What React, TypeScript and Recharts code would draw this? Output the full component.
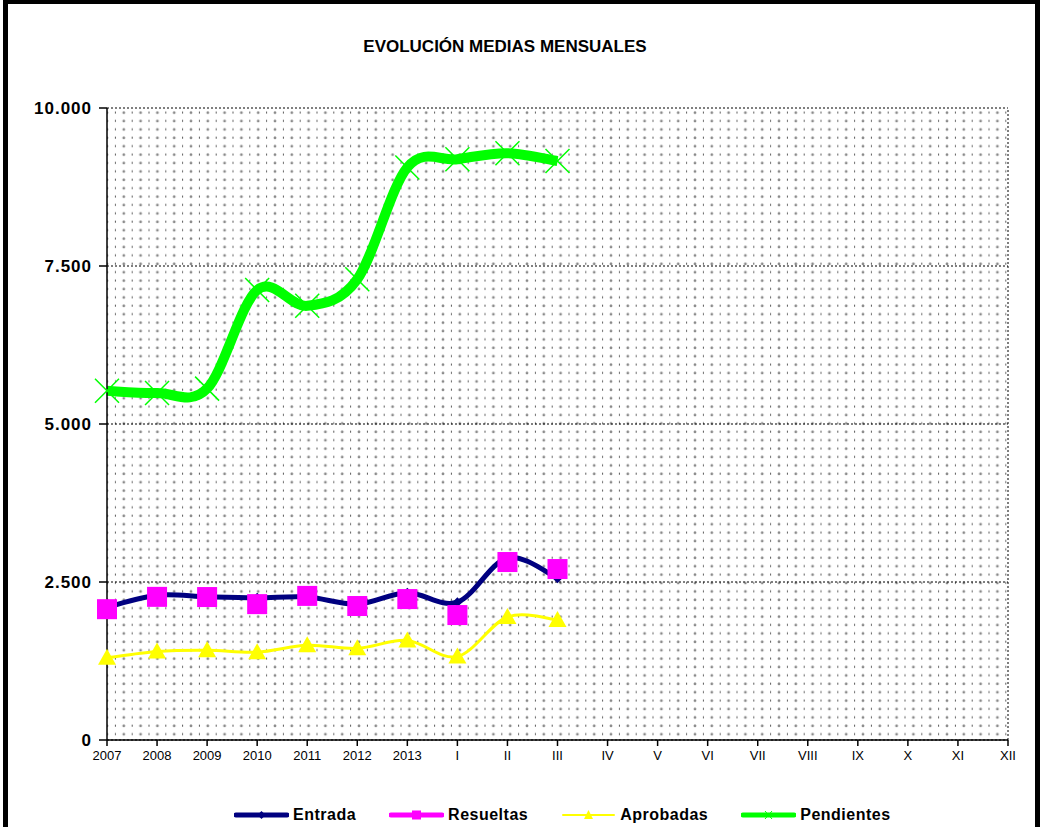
import { LineChart, Line, XAxis, YAxis, CartesianGrid, ReferenceLine } from "recharts";

const categories = ["2007", "2008", "2009", "2010", "2011", "2012", "2013", "I", "II", "III", "IV", "V", "VI", "VII", "VIII", "IX", "X", "XI", "XII"];
const entrada = [2100, 2290, 2265, 2250, 2262, 2150, 2330, 2180, 2880, 2560];
const resueltas = [2070, 2265, 2262, 2150, 2280, 2120, 2230, 1977, 2816, 2705];
const aprobadas = [1300, 1400, 1420, 1390, 1500, 1450, 1575, 1320, 1946, 1900];
const pendientes = [5525, 5490, 5560, 7120, 6870, 7290, 9060, 9190, 9285, 9160];
const yTicks = [0, 2500, 5000, 7500, 10000];

const data = categories.map((c, i) => ({
  cat: c,
  entrada: entrada[i] ?? null,
  resueltas: resueltas[i] ?? null,
  aprobadas: aprobadas[i] ?? null,
  pendientes: pendientes[i] ?? null,
}));

const FONT = "'Liberation Sans', Arial, sans-serif";

// Excel style smoothed line (Catmull-Rom through every point)
function excelCurve(context: any) {
  let pts: number[][] = [];
  return {
    areaStart() {},
    areaEnd() {},
    lineStart() {
      pts = [];
    },
    lineEnd() {
      const n = pts.length;
      if (!n) return;
      context.moveTo(pts[0][0], pts[0][1]);
      for (let i = 0; i < n - 1; i++) {
        const p0 = pts[Math.max(i - 1, 0)];
        const p1 = pts[i];
        const p2 = pts[i + 1];
        const p3 = pts[Math.min(i + 2, n - 1)];
        context.bezierCurveTo(
          p1[0] + (p2[0] - p0[0]) / 6,
          p1[1] + (p2[1] - p0[1]) / 6,
          p2[0] - (p3[0] - p1[0]) / 6,
          p2[1] - (p3[1] - p1[1]) / 6,
          p2[0],
          p2[1]
        );
      }
    },
    point(x: number, y: number) {
      pts.push([+x, +y]);
    },
  };
}

const fmt = (v: number) => String(v).replace(/\B(?=(\d{3})+(?!\d))/g, ".");

const empty = (p: any) => p.cx == null || p.cy == null || p.value == null;

const Diamond = (p: any) =>
  empty(p) ? <g key={p.key} /> : (
    <path key={p.key} d={`M${p.cx},${p.cy - 5}L${p.cx + 5},${p.cy}L${p.cx},${p.cy + 5}L${p.cx - 5},${p.cy}Z`} fill="#000080" />
  );

const Square = (p: any) =>
  empty(p) ? <g key={p.key} /> : <rect key={p.key} x={p.cx - 10} y={p.cy - 10} width={20} height={20} fill="#FF00FF" />;

const Triangle = (p: any) =>
  empty(p) ? <g key={p.key} /> : (
    <path key={p.key} d={`M${p.cx},${p.cy - 9}L${p.cx + 9},${p.cy + 7}L${p.cx - 9},${p.cy + 7}Z`} fill="#FFFF00" />
  );

const Cross = (p: any) =>
  empty(p) ? <g key={p.key} /> : (
    <path
      key={p.key}
      d={`M${p.cx - 12},${p.cy - 12}L${p.cx + 12},${p.cy + 12}M${p.cx - 12},${p.cy + 12}L${p.cx + 12},${p.cy - 12}`}
      stroke="#00FF00"
      strokeWidth={1.5}
    />
  );

const legendItems = [
  { name: "Entrada", color: "#000080", width: 5, mark: "diamond" },
  { name: "Resueltas", color: "#FF00FF", width: 5, mark: "square" },
  { name: "Aprobadas", color: "#FFFF00", width: 2, mark: "triangle" },
  { name: "Pendientes", color: "#00FF00", width: 5, mark: "cross" },
];

function LegendIcon({ color, width, mark }: { color: string; width: number; mark: string }) {
  return (
    <svg width={55} height={14} style={{ display: "block" }}>
      <line x1={2} y1={7} x2={53} y2={7} stroke={color} strokeWidth={width} strokeLinecap="round" />
      {mark === "diamond" && <path d="M27.5,3L31.5,7L27.5,11L23.5,7Z" fill={color} />}
      {mark === "square" && <rect x={23} y={2.5} width={9} height={9} fill={color} />}
      {mark === "triangle" && <path d="M27.5,2L32,11L23,11Z" fill={color} />}
      {mark === "cross" && <path d="M24,3L31,11M24,11L31,3" stroke={color} strokeWidth={1} />}
    </svg>
  );
}

export default function App() {
  return (
    <div style={{ position: "absolute", left: 0, top: 0, width: 1044, height: 827, overflow: "hidden", background: "#fff", fontFamily: FONT }}>
      <svg width={0} height={0} style={{ position: "absolute" }}>
        <defs>
          <pattern id="dots" patternUnits="userSpaceOnUse" x={107} y={110} width={16.8} height={8.4}>
            <circle cx={0} cy={2.5} r={1.4} fill="#8a8a8a" />
            <circle cx={16.8} cy={2.5} r={1.4} fill="#8a8a8a" />
            <rect x={7.9} y={1.5} width={1} height={2} fill="#555" />
          </pattern>
        </defs>
      </svg>

      <div style={{ position: "absolute", left: 3, top: -1, width: 1037, height: 900, border: "5px solid #000", boxSizing: "border-box" }} />

      <div style={{ position: "absolute", left: 0, width: 1010, top: 37, textAlign: "center", fontWeight: "bold", fontSize: 17 }}>
        EVOLUCIÓN MEDIAS MENSUALES
      </div>

      <div style={{ position: "absolute", left: 0, top: 0 }}>
        <LineChart width={1044} height={827} data={data} margin={{ top: 108, right: 36, bottom: 57, left: 0 }}>
          <CartesianGrid horizontal vertical={false} stroke="#000" strokeDasharray="2 2" fill="url(#dots)" />
          <XAxis
            dataKey="cat"
            height={30}
            interval={0}
            tickSize={6}
            tickMargin={5}
            axisLine={{ stroke: "#000", strokeWidth: 1.5 }}
            tickLine={{ stroke: "#000", strokeWidth: 1.5 }}
            tick={{ fill: "#000", fontSize: 13, fontFamily: FONT }}
          />
          <YAxis
            width={107}
            domain={[0, 10000]}
            ticks={yTicks}
            tickFormatter={fmt}
            tickSize={8}
            tickMargin={7}
            interval={0}
            axisLine={{ stroke: "#000", strokeWidth: 1.5 }}
            tickLine={{ stroke: "#000", strokeWidth: 1.5 }}
            tick={{ fill: "#000", fontSize: 17, fontWeight: "bold", fontFamily: FONT, letterSpacing: 1 }}
          />
          <ReferenceLine x="XII" stroke="#000" strokeDasharray="2 2" />
          <Line dataKey="entrada" type={excelCurve as any} stroke="#000080" strokeWidth={5} dot={Diamond} activeDot={false} isAnimationActive={false} />
          <Line dataKey="resueltas" type={excelCurve as any} stroke="none" strokeWidth={0} dot={Square} activeDot={false} isAnimationActive={false} />
          <Line dataKey="aprobadas" type={excelCurve as any} stroke="#FFFF00" strokeWidth={3} dot={Triangle} activeDot={false} isAnimationActive={false} />
          <Line dataKey="pendientes" type={excelCurve as any} stroke="#00FF00" strokeWidth={10} dot={Cross} activeDot={false} isAnimationActive={false} />
        </LineChart>
      </div>

      <div style={{ position: "absolute", left: 234, top: 805, display: "flex", alignItems: "center", fontWeight: "bold", fontSize: 16, letterSpacing: 0.5 }}>
        {legendItems.map((it) => (
          <div key={it.name} style={{ display: "flex", alignItems: "center", marginRight: 33 }}>
            <LegendIcon color={it.color} width={it.width} mark={it.mark} />
            <span style={{ marginLeft: 4, lineHeight: "20px" }}>{it.name}</span>
          </div>
        ))}
      </div>
    </div>
  );
}
